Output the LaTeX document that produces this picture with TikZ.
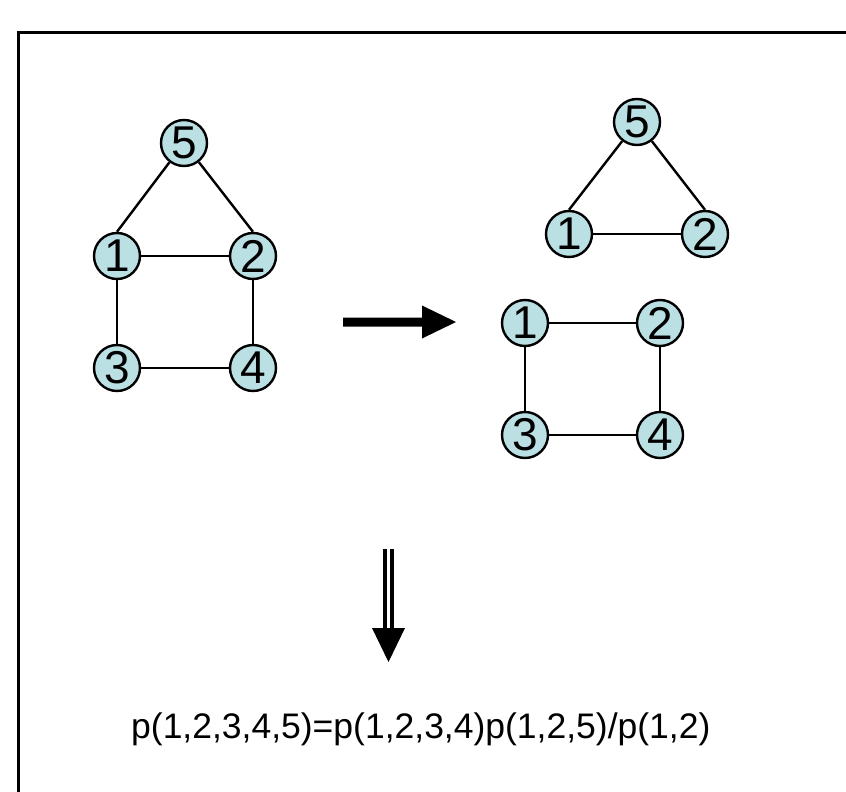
\documentclass[tikz,border=0pt]{standalone}
\usepackage{fontspec}
\setmainfont{Liberation Sans}
\usetikzlibrary{calc}
\begin{document}
\begin{tikzpicture}[x=1pt,y=-1pt,
  vert/.style={circle,draw=black,line width=2.4pt,fill=vfill,minimum size=46pt,inner sep=0pt,
    font=\fontsize{46}{46}\selectfont},
  edge/.style={line width=2.4pt},
  bigarrow/.style={fill=black,draw=none}]
\definecolor{vfill}{HTML}{BBE0E3}
\useasboundingbox (0,0) rectangle (846,792);
% open frame: top and left sides only
\coordinate (fr) at (846,33);
\coordinate (fc) at (18,33);
\coordinate (fb) at (18,792);
\draw[line width=3pt] (fr) -- (fc) -- (fb);

% full graph
\node[vert] (a5) at (184,143) {5};
\node[vert] (a1) at (117,256) {1};
\node[vert] (a2) at (253,256) {2};
\node[vert] (a3) at (117,368) {3};
\node[vert] (a4) at (253,368) {4};
\draw[edge] (a5) -- (a1.north);
\draw[edge] (a5) -- (a2.north);
\draw[edge] (a1) -- (a2);
\draw[edge] (a1) -- (a3);
\draw[edge] (a2) -- (a4);
\draw[edge] (a3) -- (a4);

% clique {1,2,5}
\node[vert] (b5) at (637,122) {5};
\node[vert] (b1) at (569,234) {1};
\node[vert] (b2) at (705,234) {2};
\draw[edge] (b5) -- (b1.north);
\draw[edge] (b5) -- (b2.north);
\draw[edge] (b1) -- (b2);

% cycle {1,2,3,4}
\node[vert] (c1) at (525,323) {1};
\node[vert] (c2) at (660,323) {2};
\node[vert] (c3) at (525,435) {3};
\node[vert] (c4) at (660,435) {4};
\draw[edge] (c1) -- (c2);
\draw[edge] (c1) -- (c3);
\draw[edge] (c2) -- (c4);
\draw[edge] (c3) -- (c4);

% block arrow to the right
\coordinate (ra) at (343,322);
\coordinate (rb) at (422,322);
\coordinate (rt) at (456,322);
\fill[bigarrow] ($(ra)+(0,-4.5)$) -- ($(rb)+(0,-4.5)$) -- ($(rb)+(0,-16.5)$) -- (rt)
  -- ($(rb)+(0,16.5)$) -- ($(rb)+(0,4.5)$) -- ($(ra)+(0,4.5)$) -- cycle;

% double-shafted arrow down
\coordinate (da) at (388.5,549);
\coordinate (db) at (388.5,628);
\coordinate (dt) at (388.5,662);
\draw[line width=4pt] ($(da)+(-3.5,0)$) -- ($(db)+(-3.5,1)$);
\draw[line width=4pt] ($(da)+(3.5,0)$) -- ($(db)+(3.5,1)$);
\fill[bigarrow] ($(db)+(-16.5,0)$) -- ($(db)+(16.5,0)$) -- (dt) -- cycle;

% factorisation
\node[anchor=base west,inner sep=0pt,font=\fontsize{35.5}{35.5}\selectfont] (eq) at (131,738)
  {p(1,2,3,4,5)=p(1,2,3,4)p(1,2,5)/p(1,2)};
\end{tikzpicture}
\end{document}
